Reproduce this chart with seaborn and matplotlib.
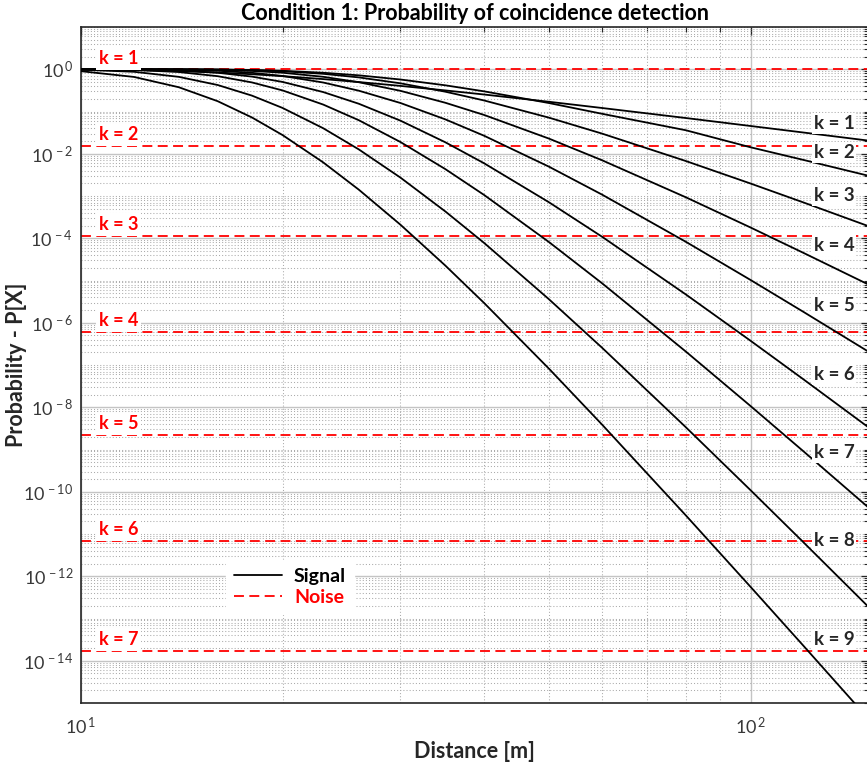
import numpy as np
import pandas as pd
import matplotlib
matplotlib.use("Agg")
import matplotlib.pyplot as plt
from matplotlib.lines import Line2D
from matplotlib.ticker import FixedLocator, LogLocator, NullFormatter, FuncFormatter
import seaborn as sns

# Distance samples [m]
distance = [10, 12, 14, 16, 18, 20, 23, 26, 30, 35, 40, 50, 60, 80, 100, 120, 150]

# Signal: log10 of the coincidence probability for k = 1 .. 9
log_p_k1 = [-0.004, -0.018, -0.043, -0.077, -0.118, -0.163, -0.233, -0.303, -0.394, -0.501, -0.598, -0.770, -0.917, -1.154, -1.343, -1.498, -1.689]
log_p_k2 = [-0.0001, -0.0002, -0.001, -0.006, -0.017, -0.037, -0.083, -0.144, -0.243, -0.380, -0.523, -0.800, -1.054, -1.443, -1.847, -2.147, -2.521]
log_p_k3 = [-0.0001, -0.0002, -0.001, -0.007, -0.021, -0.047, -0.108, -0.193, -0.333, -0.531, -0.739, -1.146, -1.523, -2.171, -2.705, -3.154, -3.714]
log_p_k4 = [-0.0001, -0.0003, -0.003, -0.014, -0.040, -0.082, -0.179, -0.307, -0.511, -0.793, -1.082, -1.642, -2.154, -3.029, -3.746, -4.348, -5.096]
log_p_k5 = [-0.0001, -0.001, -0.010, -0.035, -0.084, -0.159, -0.314, -0.508, -0.799, -1.186, -1.574, -2.307, -2.967, -4.082, -4.988, -5.745, -6.685]
log_p_k6 = [-0.0004, -0.006, -0.028, -0.083, -0.174, -0.300, -0.540, -0.817, -1.217, -1.728, -2.226, -3.149, -3.964, -5.328, -6.427, -7.342, -8.476]
log_p_k7 = [-0.002, -0.016, -0.066, -0.164, -0.312, -0.501, -0.836, -1.207, -1.723, -2.363, -2.976, -4.091, -5.065, -6.679, -7.972, -9.046, -10.374]
log_p_k8 = [-0.010, -0.060, -0.180, -0.373, -0.624, -0.916, -1.396, -1.898, -2.565, -3.365, -4.111, -5.445, -6.591, -8.470, -9.964, -11.200, -12.726]
log_p_k9 = [-0.046, -0.182, -0.426, -0.756, -1.141, -1.558, -2.205, -2.851, -3.680, -4.646, -5.533, -7.089, -8.410, -10.556, -12.252, -13.650, -15.374]
signal_series = [log_p_k1, log_p_k2, log_p_k3, log_p_k4, log_p_k5,
                 log_p_k6, log_p_k7, log_p_k8, log_p_k9]

# Noise floor probability for k = 1 .. 7
noise_levels = [0.99, 1.53e-2, 1.15e-4, 6.17e-7, 2.21e-9, 6.92e-12, 1.74e-14]
noise_labels = ["k = 1", "k = 2", "k = 3", "k = 4", "k = 5", "k = 6", "k = 7"]

signal_labels = ["k = 1", "k = 2", "k = 3", "k = 4", "k = 5", "k = 6", "k = 7", "k = 8", "k = 9"]
signal_label_y = [5.1e-2, 1.06e-2, 1.04e-3, 6.6e-5, 2.5e-6, 5.8e-8, 8.5e-10, 7.2e-12, 3.2e-14]

y_major = [1e-14, 1e-12, 1e-10, 1e-8, 1e-6, 1e-4, 1e-2, 1e0]
x_major = [10, 100]

rows = []
for k, logs in enumerate(signal_series, start=1):
    for d, lp in zip(distance, logs):
        rows.append({"distance": d, "probability": 10.0 ** lp, "k": k})
signal_df = pd.DataFrame(rows)

sns.set_theme(style="white")
plt.rcParams["font.family"] = ["Lato", "DejaVu Sans"]
plt.rcParams["mathtext.fontset"] = "custom"
plt.rcParams["mathtext.rm"] = "Lato"
plt.rcParams["mathtext.it"] = "Lato:italic"
plt.rcParams["mathtext.bf"] = "Lato:bold"

AX_COLOR = "#262626"

fig = plt.figure(figsize=(8.67, 7.66), dpi=100)
W, H = 867.0, 766.0
ax = fig.add_axes([81 / W, 63 / H, 787.5 / W, 676 / H])
ax.set_xscale("log")
ax.set_yscale("log")
ax.set_xlim(10, 150)
ax.set_ylim(1e-15, 1e1)

# Grid
ax.set_axisbelow(True)
ax.grid(True, which="major", color="#c4c4c4", linewidth=1.0, linestyle="-")
ax.grid(True, which="minor", color="#ababab", linewidth=0.75, linestyle=(0, (1, 2)))

# Signal curves
sns.lineplot(data=signal_df, x="distance", y="probability", units="k", estimator=None,
             color="black", linewidth=1.3, ax=ax, legend=False, zorder=3)

# Noise floors
for lvl in noise_levels:
    ax.axhline(lvl, color="#ff0000", linewidth=1.3, dashes=(5.5, 3), zorder=2.5)

for txt, lvl in zip(noise_labels, noise_levels):
    ax.annotate(txt, xy=(11.38, lvl), xytext=(0, 8), textcoords="offset points",
                ha="center", va="center", color="#ff0000", fontsize=13, fontweight="bold",
                bbox=dict(boxstyle="square,pad=0.15", fc="white", ec="none"), zorder=4)

for txt, yv in zip(signal_labels, signal_label_y):
    ax.text(133.2, yv, txt, ha="center", va="center", color=AX_COLOR, fontsize=13.5,
            fontweight="bold", bbox=dict(boxstyle="square,pad=0.1", fc="white", ec="none"),
            zorder=4)

# Axes and ticks
ax.xaxis.set_major_locator(FixedLocator(x_major))
ax.xaxis.set_minor_locator(LogLocator(base=10, subs=np.arange(2, 10), numticks=50))
ax.yaxis.set_major_locator(FixedLocator(y_major))
ax.yaxis.set_minor_locator(LogLocator(base=10, subs=np.arange(1, 10), numticks=100))
ax.xaxis.set_minor_formatter(NullFormatter())
ax.yaxis.set_minor_formatter(NullFormatter())

def pow_fmt(v, pos):
    e = int(round(np.log10(v)))
    return r"$\mathregular{10^{\,%d}}$" % e

ax.xaxis.set_major_formatter(FuncFormatter(pow_fmt))
ax.yaxis.set_major_formatter(FuncFormatter(pow_fmt))

ax.tick_params(which="both", direction="in", top=True, right=True, color=AX_COLOR,
               labelcolor="#383838", labelsize=13)
ax.tick_params(which="major", length=6, width=0.9)
ax.tick_params(which="minor", length=3.5, width=0.8)
ax.tick_params(axis="x", which="major", pad=9)
ax.tick_params(axis="y", which="major", pad=5.5)

for side in ["left", "bottom", "top", "right"]:
    ax.spines[side].set_color(AX_COLOR)
    ax.spines[side].set_linewidth(1.2)
    ax.spines[side].set_visible(True)

ax.set_xlabel("Distance [m]", fontsize=15.5, fontweight="bold", color=AX_COLOR, labelpad=3)
ax.set_ylabel("Probability - P[X]", fontsize=15.5, fontweight="bold", color=AX_COLOR)
ax.yaxis.label.set_va("center")
ax.yaxis.set_label_coords(-0.0813, 0.5)
ax.set_title("Condition 1: Probability of coincidence detection", fontsize=15.5,
             fontweight="bold", color="black", pad=5)

# Legend
handles = [Line2D([], [], color="black", linewidth=1.3),
           Line2D([], [], color="#ff0000", linewidth=1.3, dashes=(5.5, 3))]
leg = ax.legend(handles, ["Signal", "Noise"], loc="lower left", bbox_to_anchor=(0.184, 0.132),
                borderaxespad=0, frameon=True, fancybox=False, framealpha=1,
                facecolor="white", edgecolor="white", handlelength=2.5, handletextpad=0.6,
                labelspacing=0.2, borderpad=0.4, prop={"size": 14, "weight": "bold"})
leg.set_zorder(5)
leg.get_texts()[0].set_color("black")
leg.get_texts()[1].set_color("#ff0000")

fig.savefig("out.png", dpi=100)
